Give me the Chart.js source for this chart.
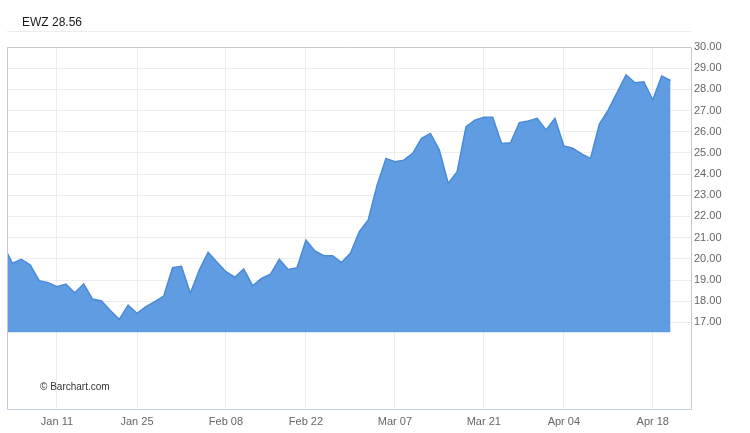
<!DOCTYPE html>
<html>
<head>
<meta charset="utf-8">
<title>EWZ</title>
<script src="https://cdn.jsdelivr.net/npm/chart.js@4.4.1/dist/chart.umd.min.js"></script>
<style>
    body { margin: 0; background: #fff; }
    canvas { display: block; }
</style>
</head>
<body>
<canvas id="ewz" width="750" height="433"></canvas>
<script>
// trading days, Dec 31 2015 -> Apr 20 2016 (first one is cut by the left edge)
const dates = [
    "Dec 31",
    "Jan 04", "Jan 05", "Jan 06", "Jan 07", "Jan 08",
    "Jan 11", "Jan 12", "Jan 13", "Jan 14", "Jan 15",
    "Jan 19", "Jan 20", "Jan 21", "Jan 22",
    "Jan 25", "Jan 26", "Jan 27", "Jan 28", "Jan 29",
    "Feb 01", "Feb 02", "Feb 03", "Feb 04", "Feb 05",
    "Feb 08", "Feb 09", "Feb 10", "Feb 11", "Feb 12",
    "Feb 16", "Feb 17", "Feb 18", "Feb 19",
    "Feb 22", "Feb 23", "Feb 24", "Feb 25", "Feb 26",
    "Feb 29", "Mar 01", "Mar 02", "Mar 03", "Mar 04",
    "Mar 07", "Mar 08", "Mar 09", "Mar 10", "Mar 11",
    "Mar 14", "Mar 15", "Mar 16", "Mar 17", "Mar 18",
    "Mar 21", "Mar 22", "Mar 23", "Mar 24",
    "Mar 28", "Mar 29", "Mar 30", "Mar 31", "Apr 01",
    "Apr 04", "Apr 05", "Apr 06", "Apr 07", "Apr 08",
    "Apr 11", "Apr 12", "Apr 13", "Apr 14", "Apr 15",
    "Apr 18", "Apr 19", "Apr 20"
]

// closes
const closes = [
    20.60,
    19.79, 19.98, 19.71, 18.97, 18.87,
    18.68, 18.81, 18.40, 18.81, 18.10,
    18.01, 17.56, 17.14, 17.81,
    17.43, 17.74, 17.98, 18.24, 19.58,
    19.65, 18.37, 19.47, 20.31, 19.84,
    19.39, 19.13, 19.52, 18.73, 19.08,
    19.27, 19.98, 19.50, 19.58,
    20.89, 20.37, 20.15, 20.15, 19.82,
    20.26, 21.28, 21.83, 23.48, 24.74,
    24.58, 24.66, 24.98, 25.69, 25.92,
    25.14, 23.56, 24.11, 26.24, 26.55,
    26.68, 26.68, 25.45, 25.48,
    26.43, 26.51, 26.63, 26.08, 26.63,
    25.33, 25.22, 24.95, 24.74, 26.36,
    27.03, 27.86, 28.68, 28.31, 28.36,
    27.50, 28.63, 28.42
]

const xTickLabels = ["Jan 11", "Jan 25", "Feb 08", "Feb 22", "Mar 07", "Mar 21", "Apr 04", "Apr 18"]
const yTickValues = [17, 18, 19, 20, 21, 22, 23, 24, 25, 26, 27, 28, 29, 30]
const symbol = "EWZ"
const lastPrice = "28.56"
const credit = "\u00A9 Barchart.com"

document.addEventListener("DOMContentLoaded", function () {
    const points = closes.map((v, i) => ({ x: i, y: v }))
    const xTickIdx = xTickLabels.map(l => dates.indexOf(l))

    // title, frame and watermark are drawn by hand
    const extras = {
        id: 'extras',
        beforeDraw(chart) {
            const c = chart.ctx
            const a = chart.chartArea
            c.save()
            c.strokeStyle = '#ececec'
            c.lineWidth = 1
            c.beginPath()
            c.moveTo(a.left, 31.5)
            c.lineTo(a.right, 31.5)
            c.stroke()
            c.fillStyle = '#1a1a1a'
            c.font = '12px "Liberation Sans", Arial, sans-serif'
            c.textBaseline = 'middle'
            c.fillText(symbol + ' ' + lastPrice, 22, 23)
            c.restore()
        },
        afterDatasetsDraw(chart) {
            const c = chart.ctx
            const a = chart.chartArea
            c.save()
            c.lineWidth = 1
            c.strokeStyle = '#c9c9c9'
            c.beginPath()
            c.moveTo(a.left + 0.5, a.bottom)
            c.lineTo(a.left + 0.5, a.top + 0.5)
            c.lineTo(a.right + 0.5, a.top + 0.5)
            c.lineTo(a.right + 0.5, a.bottom)
            c.stroke()
            c.strokeStyle = '#c3d3e4'
            c.beginPath()
            c.moveTo(a.left, a.bottom + 0.5)
            c.lineTo(a.right + 1, a.bottom + 0.5)
            c.stroke()
            c.fillStyle = '#333'
            c.font = '10px "Liberation Sans", Arial, sans-serif'
            c.textBaseline = 'middle'
            c.fillText(credit, 40, 387)
            c.restore()
        }
    }

    const ctx = document.getElementById('ewz').getContext('2d')
    new Chart(ctx, {
        type: 'line',
        data: {
            datasets: [{
                label: symbol,
                data: points,
                borderColor: '#4a8ad8',
                borderWidth: 1.5,
                backgroundColor: 'rgba(78, 145, 222, 0.9)',
                fill: { value: 16.53 },
                pointRadius: 0,
                tension: 0
            }]
        },
        options: {
            responsive: false,
            devicePixelRatio: 1,
            animation: false,
            layout: { padding: { left: 7, top: 47, right: 0, bottom: 0 } },
            plugins: {
                legend: { display: false },
                tooltip: { enabled: false }
            },
            scales: {
                x: {
                    type: 'linear',
                    min: 0.38,
                    max: 77.3,
                    afterBuildTicks: s => { s.ticks = xTickIdx.map(v => ({ value: v })) },
                    afterFit: s => { s.height = 24 },
                    grid: { color: '#ececec', drawTicks: false },
                    border: { display: false },
                    ticks: {
                        padding: 6,
                        maxRotation: 0,
                        autoSkip: false,
                        color: '#666',
                        font: { family: '"Liberation Sans", Arial, sans-serif', size: 11 },
                        callback: v => dates[v]
                    }
                },
                y: {
                    position: 'right',
                    min: 12.91,
                    max: 30,
                    afterBuildTicks: s => { s.ticks = yTickValues.map(v => ({ value: v })) },
                    afterFit: s => { s.width = 59 },
                    grid: { color: '#ececec', drawTicks: false },
                    border: { display: false },
                    ticks: {
                        padding: 3,
                        color: '#666',
                        font: { family: '"Liberation Sans", Arial, sans-serif', size: 11 },
                        callback: v => v.toFixed(2)
                    }
                }
            }
        },
        plugins: [extras]
    })
})
</script>
</body>
</html>
